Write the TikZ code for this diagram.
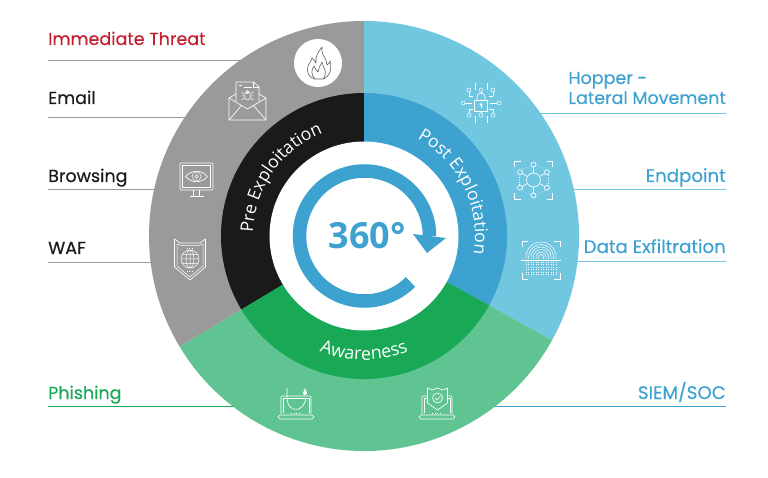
\documentclass[tikz,border=0pt]{standalone}
\usepackage{fontspec}
\usepackage{xcolor}
\usetikzlibrary{decorations.text,positioning,calc}
\setmainfont{Poppins}
\newfontfamily\opensans{Open Sans}
\newfontfamily\labfont{Poppins}[FakeBold=0.3]

\definecolor{ringgray}{HTML}{9A9A9A}
\definecolor{ringblack}{HTML}{1A1A1A}
\definecolor{ringblue}{HTML}{71C6E0}
\definecolor{coreblue}{HTML}{3DA2CF}
\definecolor{ringgreen}{HTML}{60C492}
\definecolor{coregreen}{HTML}{19A855}
\definecolor{threatred}{HTML}{C3202F}

\tikzset{
    lab/.style={font=\labfont\fontsize{17.5}{20}\selectfont, inner sep=0pt},
    labr/.style={font=\labfont\fontsize{18.2}{20}\selectfont, inner sep=0pt},
    icon/.style={draw=white, line width=0.65pt},
    fine/.style={draw=white, line width=0.5pt},
    pics/corners/.style={code={
        \foreach \sx/\sy in {1/1,-1/1,1/-1,-1/-1} {
            \draw[icon, xscale=\sx, yscale=\sy] (13,19) -- (19,19) -- (19,13);
        }
    }},
    pics/flame/.style={code={
        \draw[draw=ringblack!70, line width=0.6pt, line join=round] (-4,-16) .. controls (-10,-15) and (-13,-9) .. (-11,-3) .. controls (-10,0) and (-8,1) .. (-7,5) .. controls (-5,3) and (-4,2) .. (-3,0) .. controls (-4,6) and (-1,11) .. (3,16) .. controls (2,10) and (5,7) .. (7,3) .. controls (8,1) and (8,0) .. (8,-2) .. controls (10,-1) and (11,1) .. (11,2) .. controls (13,-5) and (11,-14) .. (4,-16) -- cycle;
        \draw[draw=ringblack!70, line width=0.6pt, line join=round] (-4,-16) .. controls (-8,-12) and (-8,-7) .. (-5,-3) .. controls (-4,-6) and (-3,-7) .. (-1,-9) .. controls (0,-5) and (1,-2) .. (3,1) .. controls (3,-2) and (5,-4) .. (6,-7) .. controls (7,-10) and (6,-14) .. (4,-16);
    }},
    pics/mailbug/.style={code={
        \draw[icon, line join=round] (-11.5,0) -- (-11.5,19) -- (6,19) -- (11.5,14) -- (11.5,0);
        \draw[fine] (6,19) -- (6,14) -- (11.5,14);
        \draw[fine] (-9,16) -- (-6,16) (-4,14) -- (4,14);
        \draw[icon, line join=round] (-11.5,7) -- (-18.5,3) -- (-18.5,-19) -- (18.5,-19) -- (18.5,3) -- (11.5,7);
        \draw[icon] (-18.5,3) -- (0,-8) -- (18.5,3);
        \draw[icon] (-18.5,-19) -- (-6,-4.5) (18.5,-19) -- (6,-4.5);
        \draw[fine] (0,5) ellipse (3 and 4) (0,9) circle (1.5);
        \draw[fine] (-3,7) -- (-6,9) (3,7) -- (6,9) (-3,5) -- (-6,5) (3,5) -- (6,5) (-3,3) -- (-6,1) (3,3) -- (6,1);
    }},
    pics/screeneye/.style={code={
        \draw[icon, rounded corners=1pt] (-16.5,-10.5) rectangle (16.5,16.5);
        \draw[fine] (-14,-8) rectangle (14,14);
        \draw[icon] (-3,-10.5) -- (-3,-16.5) (3,-10.5) -- (3,-16.5) (-7,-16.5) -- (7,-16.5);
        \draw[icon] (-11,3) .. controls (-5,10) and (5,10) .. (11,3) .. controls (5,-4) and (-5,-4) .. (-11,3) -- cycle;
        \draw[fine] (0,3) circle (4.5) (0,3) circle (1.8);
    }},
    pics/webshield/.style={code={
        \draw[icon, line join=round] (-15.5,20) -- (-15.5,-8) -- (0,-21) -- (15.5,-8) -- (15.5,20) -- (10,16) -- (-10,16) -- cycle;
        \draw[fine, line join=round] (-13,15) -- (-13,-7) -- (0,-18) -- (13,-7) -- (13,15) -- (9,13.5) -- (-9,13.5) -- cycle;
        \draw[fine] (0,0) circle (9) (0,0) ellipse (4 and 9) (-9,0) -- (9,0) (-8,4.5) -- (8,4.5) (-8,-4.5) -- (8,-4.5) (0,-9) -- (0,9);
        \draw[fine, dotted] (-3.5,11) -- (3.5,11) (-3.5,-12) -- (3.5,-12);
    }},
    pics/circuitlock/.style={code={
        \draw[icon] (-6.5,-8) rectangle (6.5,3);
        \draw[icon] (-4,3) -- (-4,6) arc (180:0:4) -- (4,3);
        \fill[white] (0,-1.5) circle (1.5);
        \draw[icon] (0,-1.5) -- (0,-5);
        \foreach \px/\py/\qx/\qy in {-12/13/-12/7, 0/13/0/9, 12/13/12/7, -18/0/-9/0, 18/0/9/0, -12/-12/-12/-6, 0/-12/0/-8, 12/-12/12/-6} {
            \draw[fine] (\px,\py) circle (2);
            \draw[fine] (\qx,\qy) -- ($(\px,\py)!2pt!(\qx,\qy)$);
        }
        \draw[fine] (-12,7) -- (-8,7) (12,7) -- (8,7) (-12,-6) -- (-8,-6) (12,-6) -- (8,-6);
        \draw[fine] (-6,13) -- (-6,20) (6,13) -- (6,20) (-6,-13) -- (-6,-20) (6,-13) -- (6,-20);
    }},
    pics/hubnet/.style={code={
        \pic {corners};
        \draw[icon] (0,0) circle (7);
        \foreach \a in {30,90,...,330} {
            \draw[icon] (\a:15.5) circle (2.5);
            \draw[icon] (\a:7) -- (\a:13);
            \draw[fine, dotted] (\a+8:15.5) -- (\a+52:15.5);
        }
    }},
    pics/fingerprint/.style={code={
        \pic {corners};
        \foreach \r in {2.5,5,...,15} {
            \draw[fine] (\r,1) -- (\r,3) arc (0:180:\r) -- (-\r,1);
        }
        \draw[icon] (-20,0) -- (20,0);
        \foreach \x in {-15,-12.5,...,15} {
            \draw[fine, dotted] (\x,-2) -- (\x,-15);
        }
    }},
    pics/laptop/.style={code={
        \draw[icon, rounded corners=1pt] (-15,-10) -- (-15,8) -- (15,8) -- (15,-10);
        \draw[fine] (-13,-9) -- (-13,6) -- (13,6) -- (13,-9);
        \draw[icon, rounded corners=1.5pt] (-17.5,-11) rectangle (17.5,-15);
        \draw[fine, dotted] (-5,-9) -- (5,-9);
    }},
    pics/hook/.style={code={
        \draw[icon] (-9,16) -- (-9,5) .. controls (-8,-9) and (8,-9) .. (10,6);
        \fill[white] (9,16) -- (11,11) arc (0:-180:2) -- cycle;
    }},
    pics/checkshield/.style={code={
        \draw[icon, fill=ringgreen, line join=round] (-10,16) -- (-5,14) -- (0,16) -- (5,14) -- (10,16) -- (10,1) -- (0,-6) -- (-10,1) -- cycle;
        \draw[icon] (0,6) circle (5);
        \draw[fine] (-2.5,6) -- (-0.5,4) -- (3,8);
    }}
}

\begin{document}
\begin{tikzpicture}[x=1pt,y=1pt]
    \useasboundingbox (0,0) rectangle (768,477);
    \fill[white] (0,0) rectangle (768,477);

    % Label lines, drawn first so the disc covers their ends
    \foreach \name/\col/\xa/\xb/\y in {threat/ringgray/48/300/417, email/ringgray/48/230/360, browsing/ringgray/48/230/288, waf/ringgray/48/230/215, phishing/coregreen/48/300/71, hopper/ringblue/726/480/364, endpoint/ringblue/726/480/288, exfil/ringblue/726/480/216, siem/coreblue/726/430/71} {
        \coordinate (\name a) at (\xa,\y);
        \coordinate (\name b) at (\xb,\y);
        \draw[\col, line width=0.8pt] (\name a) -- (\name b);
    }

    % Rings
    \begin{scope}[shift={(364,241)}]
        \foreach \c/\d/\from/\to in {ringgray/ringblack/90/211, ringblue/coreblue/-29/90, ringgreen/coregreen/211/331} {
            \fill[\c] (0,0) -- (\from:215) arc (\from:\to:215) -- cycle;
            \fill[\d] (0,0) -- (\from:143) arc (\from:\to:143) -- cycle;
        }
        \fill[white] (0,0) circle (94.5);

        % Curved titles
        \path[decorate, decoration={text along path, text align=center, text color=white, text={|\opensans\fontsize{17.5}{20}\selectfont|Pre Exploitation}}] (183:111) arc (183:107:111);
        \path[decorate, decoration={text along path, text align=center, text color=white, text={|\opensans\fontsize{17.5}{20}\selectfont|Post Exploitation}}] (62:111) arc (62:-10:111);
        \path[decorate, decoration={text along path, text align=center, text color=white, text={|\opensans\fontsize{18}{20}\selectfont|Awareness}}] (247:124) arc (247:293:124);
    \end{scope}

    % Arrow round the 360
    \begin{scope}[shift={(364.5,241)}]
        \draw[coreblue, line width=13.5pt] (-45:65) arc (-45:-360:65);
        \fill[coreblue] (48.5,2) -- (81.5,-2) -- (62.5,-17) -- cycle;
    \end{scope}
    \node[coreblue, font=\opensans\bfseries\fontsize{36}{40}\selectfont, inner sep=0pt] (deg) at (367,241) {360°};

    % Left labels
    \node[lab, threatred, anchor=base west] (threat) at (48,432) {Immediate Threat};
    \node[lab, ringblack, anchor=base west] (email) at (48,373) {Email};
    \node[lab, ringblack, anchor=base west] (browsing) at (48,295) {Browsing};
    \node[lab, ringblack, anchor=base west] (waf) at (48,223) {WAF};
    \node[lab, coregreen, anchor=base west] (phishing) at (48,78) {Phishing};

    % Right labels
    \node[lab, coreblue, anchor=base east, align=left] (hopper) at (726,373) {Hopper -\\Lateral Movement};
    \node[labr, coreblue, anchor=base east] (endpoint) at (726,295) {Endpoint};
    \node[labr, coreblue, anchor=base east] (exfil) at (726,224) {Data Exfiltration};
    \node[labr, coreblue, anchor=base east] (siem) at (726,78) {SIEM/SOC};

    % Icons
    \node[circle, fill=white, minimum size=48pt, inner sep=0pt] (fire) at (318,414) {};
    \pic at (319,414) {flame};
    \pic at (247.5,376) {mailbug};
    \pic at (196.5,297.5) {screeneye};
    \pic at (190,218) {webshield};
    \pic at (481,374) {circuitlock};
    \pic at (533.5,297) {hubnet};
    \pic at (541,217) {fingerprint};
    \pic at (296,73) {laptop};
    \pic at (296,73) {hook};
    \pic at (437,73) {laptop};
    \pic at (437.5,73) {checkshield};
\end{tikzpicture}
\end{document}
